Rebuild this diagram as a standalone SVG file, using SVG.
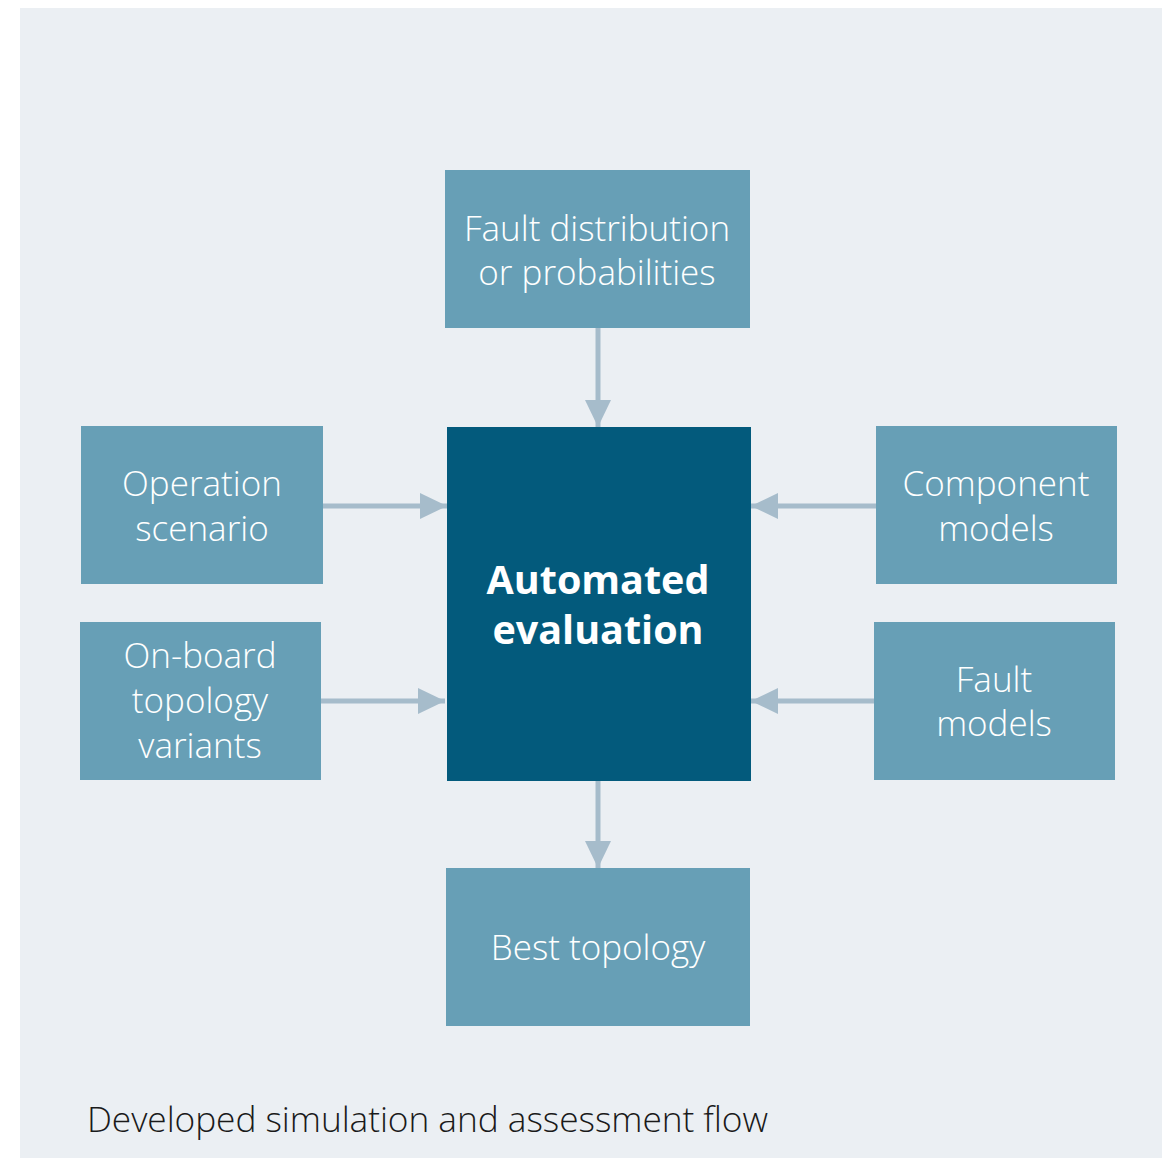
<svg xmlns="http://www.w3.org/2000/svg" width="1171" height="1158" viewBox="0 0 1171 1158">
<defs>
<style>
.box{fill:#679fb6}
.main{fill:#035a7c}
.lbl{font-family:"Open Sans","Noto Sans",sans-serif;font-weight:300;font-size:35px;fill:#ffffff;text-anchor:middle}
.big{font-family:"Open Sans","Noto Sans",sans-serif;font-weight:700;font-size:39.5px;fill:#ffffff;text-anchor:middle}
.cap{font-family:"Open Sans","Noto Sans",sans-serif;font-weight:300;font-size:35.3px;fill:#1a1a1a}
.conn{stroke:#a6bccb;stroke-width:5;fill:none}
</style>
<marker id="ah" viewBox="0 0 27 26" refX="27" refY="13" markerWidth="27" markerHeight="26" markerUnits="userSpaceOnUse" orient="auto">
<path d="M0,0 L27,13 L0,26 Z" fill="#a6bccb"/>
</marker>
</defs>
<rect x="20" y="8" width="1142" height="1150" fill="#ebeff3"/>
<g id="connectors">
<line class="conn" x1="598" y1="328" x2="598" y2="427" marker-end="url(#ah)"/>
<line class="conn" x1="323" y1="506" x2="447" y2="506" marker-end="url(#ah)"/>
<line class="conn" x1="321" y1="701" x2="445" y2="701" marker-end="url(#ah)"/>
<line class="conn" x1="876" y1="506" x2="751" y2="506" marker-end="url(#ah)"/>
<line class="conn" x1="874" y1="701" x2="751" y2="701" marker-end="url(#ah)"/>
<line class="conn" x1="598" y1="781" x2="598" y2="868" marker-end="url(#ah)"/>
</g>
<g id="fault-distribution">
<rect class="box" x="445" y="170" width="305" height="158"/>
<text class="lbl" x="597" y="241">Fault distribution</text>
<text class="lbl" x="597" y="285">or probabilities</text>
</g>
<g id="automated-evaluation">
<rect class="main" x="447" y="427" width="304" height="354"/>
<text class="big" x="598" y="594">Automated</text>
<text class="big" x="598" y="644">evaluation</text>
</g>
<g id="operation-scenario">
<rect class="box" x="81" y="426" width="242" height="158"/>
<text class="lbl" x="202" y="496">Operation</text>
<text class="lbl" x="202" y="541">scenario</text>
</g>
<g id="onboard-topology">
<rect class="box" x="80" y="622" width="241" height="158"/>
<text class="lbl" x="200" y="668">On-board</text>
<text class="lbl" x="200" y="713">topology</text>
<text class="lbl" x="200" y="758">variants</text>
</g>
<g id="component-models">
<rect class="box" x="876" y="426" width="241" height="158"/>
<text class="lbl" x="996" y="496">Component</text>
<text class="lbl" x="996" y="541">models</text>
</g>
<g id="fault-models">
<rect class="box" x="874" y="622" width="241" height="158"/>
<text class="lbl" x="994" y="692">Fault</text>
<text class="lbl" x="994" y="736">models</text>
</g>
<g id="best-topology">
<rect class="box" x="446" y="868" width="304" height="158"/>
<text class="lbl" x="598" y="960">Best topology</text>
</g>
<text class="cap" x="87" y="1132" textLength="681" lengthAdjust="spacing">Developed simulation and assessment flow</text>
</svg>
